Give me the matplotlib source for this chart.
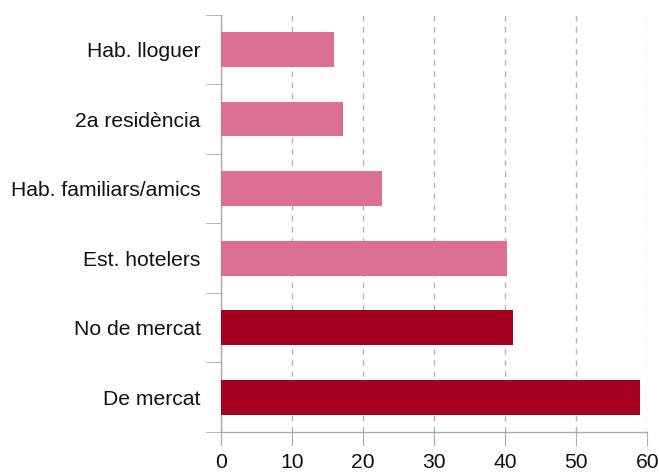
import numpy as np
import matplotlib
matplotlib.use("Agg")
from matplotlib import pyplot as plt

# Dades (de baix a dalt)
categories = ['De mercat', 'No de mercat', 'Est. hotelers', 'Hab. familiars/amics', '2a residència', 'Hab. lloguer']
values = [59.0, 41.1, 40.3, 22.7, 17.2, 15.9]
bar_colors = ['#a50021', '#a50021', '#db7093', '#db7093', '#db7093', '#db7093']
xticks = [0, 10, 20, 30, 40, 50, 60]

plt.rcParams['font.family'] = ['Liberation Sans', 'DejaVu Sans']

fig = plt.figure(figsize=(6.59, 4.72), dpi=100)
ax = fig.add_axes([221 / 659, 1 - 432 / 472, (647.3 - 221) / 659, (432 - 14.7) / 472])

y = np.arange(len(categories))
ax.barh(y, values, height=0.5, color=bar_colors, zorder=3)

ax.set_xlim(0, 60)
ax.set_ylim(-0.5, len(categories) - 0.5)

# Eixos i graella
for side in ['top', 'right']:
    ax.spines[side].set_visible(False)
for side in ['left', 'bottom']:
    ax.spines[side].set_color('#aaaaaa')
    ax.spines[side].set_linewidth(1)

ax.set_xticks(xticks)
ax.set_xticklabels([str(t) for t in xticks])
ax.tick_params(axis='x', length=10, color='#aaaaaa', labelsize=15.2, pad=5, labelcolor='#111111')
ax.xaxis.grid(True, linestyle=(0, (4, 4)), color='#b5b5b5', linewidth=1, zorder=0)

ax.set_yticks(y)
ax.set_yticklabels(categories)
ax.set_yticks(np.arange(-0.5, len(categories)), minor=True)
ax.tick_params(axis='y', which='major', length=0, pad=14.5, labelsize=15.2, labelcolor='#111111')
ax.tick_params(axis='y', which='minor', length=11, color='#aaaaaa')

fig.savefig('out.png', dpi=100)
